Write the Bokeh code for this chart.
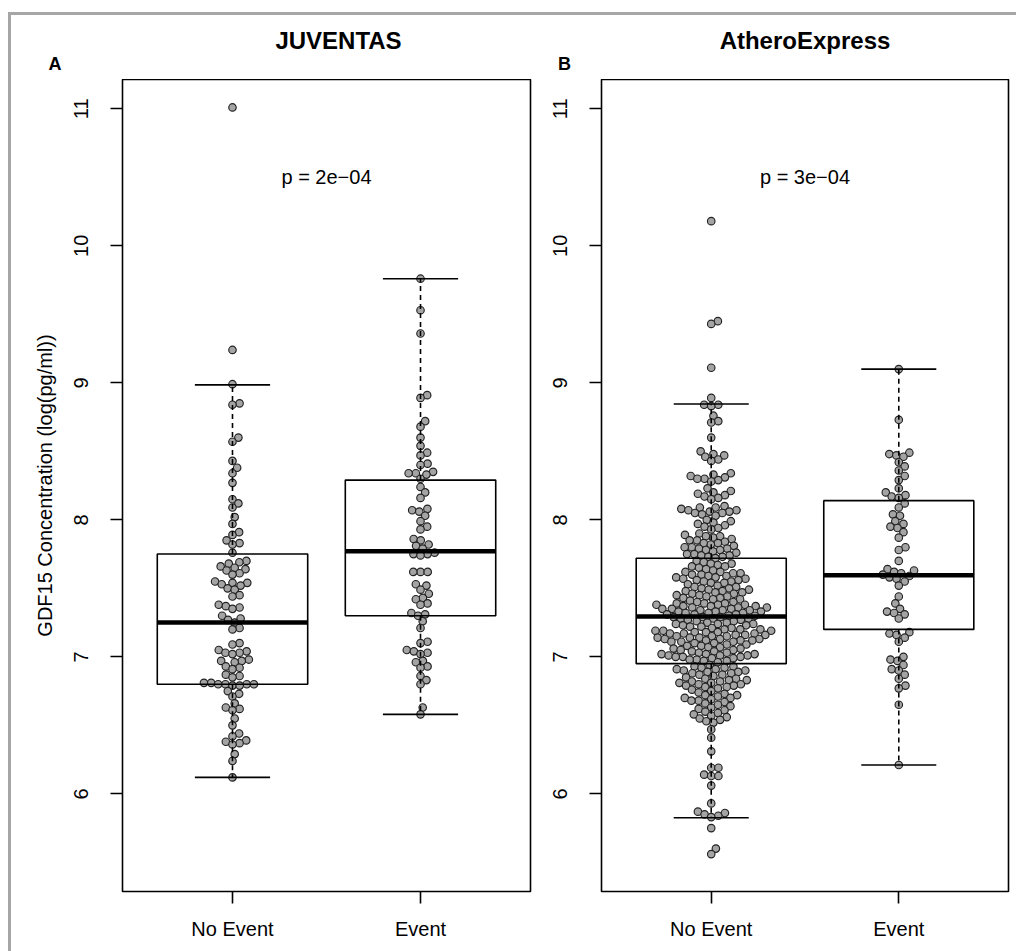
import numpy as np
from bokeh.plotting import figure
from bokeh.models import FixedTicker, Range1d, Label, ColumnDataSource
from bokeh.layouts import row, column
from bokeh.embed import file_html
from bokeh.resources import INLINE

FONT = "Liberation Sans"

# ---- data -------------------------------------------------------------
groups = ["No Event", "Event"]
group_pos = [1, 2]
y_ticks = [6, 7, 8, 9, 10, 11]

cohorts = ["JUVENTAS", "AtheroExpress"]
panel_letters = ["A", "B"]
p_labels = ["p = 2e\u221204", "p = 3e\u221204"]
y_label = "GDF15 Concentration (log(pg/ml))"

juv_no_event = [
    11.01, 9.24, 8.99, 8.85, 8.84, 8.60, 8.57, 8.43, 8.38, 8.34, 8.27, 8.15, 8.12, 8.09, 8.02, 7.97,
    7.91, 7.89, 7.85, 7.83, 7.82, 7.76, 7.70, 7.69, 7.68, 7.66, 7.65, 7.64,
    7.63, 7.61, 7.60, 7.55, 7.54, 7.54, 7.53, 7.52, 7.50, 7.49, 7.45, 7.44, 7.38, 7.37, 7.36, 7.35,
    7.30, 7.28, 7.27, 7.25, 7.21, 7.20,
    7.10, 7.09, 7.05, 7.04, 7.03, 7.03, 7.02,
    6.98, 6.97, 6.97, 6.96,
    6.93, 6.92, 6.91, 6.87, 6.86, 6.85,
    6.81, 6.81, 6.80, 6.80, 6.80, 6.80, 6.79, 6.79,
    6.75, 6.73, 6.71, 6.66, 6.63, 6.62, 6.61, 6.55, 6.50, 6.44, 6.42, 6.39, 6.38, 6.37, 6.36,
    6.29, 6.24, 6.12,
]

juv_event = [
    9.76, 9.53, 9.36, 8.91, 8.89, 8.72, 8.68, 8.60, 8.54, 8.49, 8.47, 8.41, 8.40, 8.35, 8.34,
    8.34, 8.33, 8.30, 8.24, 8.20, 8.16,
    8.08, 8.07, 8.06, 8.03, 7.99, 7.95, 7.93,
    7.86, 7.85, 7.82, 7.81, 7.79,
    7.76, 7.75, 7.75, 7.74,
    7.62, 7.62, 7.62,
    7.53, 7.52, 7.49, 7.46, 7.43, 7.42, 7.39, 7.38,
    7.32, 7.31, 7.30, 7.26, 7.21,
    7.11, 7.10, 7.05, 7.04, 7.03, 7.02,
    6.97, 6.96, 6.93, 6.92,
    6.86, 6.83, 6.80,
    6.63, 6.58,
]

ae_no_event = [
    10.18, 9.45, 9.43, 9.11, 8.89, 8.84, 8.84, 8.83, 8.76, 8.72, 8.71, 8.60,
    8.50, 8.48, 8.47, 8.46, 8.44, 8.43,
    8.34, 8.33, 8.32, 8.31, 8.30, 8.30, 8.29, 8.28,
    8.23, 8.21, 8.20, 8.19, 8.18, 8.17, 8.16, 8.15,
    8.10, 8.09, 8.09, 8.08, 8.07, 8.07, 8.06, 8.06, 8.05, 8.05, 8.04, 8.03,
    8.00, 7.99, 7.98, 7.97, 7.96, 7.95, 7.94, 7.93,
    7.90, 7.89, 7.88, 7.88, 7.87, 7.86, 7.85, 7.85, 7.84, 7.83, 7.83, 7.82,
    7.81, 7.80, 7.80, 7.79, 7.79, 7.78, 7.78, 7.77,
    7.76, 7.75, 7.75, 7.74, 7.74, 7.73, 7.73, 7.72,
    7.70, 7.69, 7.68, 7.68, 7.67, 7.66, 7.66, 7.65, 7.64,
    7.63, 7.62, 7.62, 7.61, 7.61, 7.60, 7.60, 7.59, 7.59, 7.58, 7.58, 7.57, 7.57, 7.56, 7.56,
    7.55, 7.55, 7.54, 7.54, 7.53,
    7.52, 7.51, 7.51, 7.50, 7.50, 7.49, 7.49, 7.48, 7.48, 7.47, 7.47, 7.46, 7.46, 7.45, 7.45,
    7.44, 7.44, 7.43, 7.43, 7.42, 7.42, 7.41, 7.40, 7.40,
    7.39, 7.39, 7.39, 7.38, 7.38, 7.38, 7.37, 7.37, 7.37, 7.36, 7.36, 7.36, 7.35, 7.35, 7.35,
    7.34, 7.34, 7.34, 7.33, 7.33, 7.33, 7.32, 7.32, 7.32, 7.31, 7.31, 7.31, 7.30, 7.30,
    7.29, 7.29, 7.29, 7.28, 7.28, 7.28, 7.27, 7.27, 7.26, 7.26, 7.25, 7.25, 7.24, 7.24, 7.24,
    7.23, 7.23, 7.22, 7.22, 7.21, 7.21,
    7.20, 7.20, 7.20, 7.19, 7.19, 7.19, 7.18, 7.18, 7.18, 7.17, 7.17, 7.17, 7.16, 7.16, 7.16,
    7.15, 7.15, 7.15, 7.14, 7.14, 7.14, 7.13, 7.13, 7.13, 7.12, 7.12, 7.12, 7.11, 7.11, 7.11,
    7.10, 7.10, 7.09, 7.09, 7.08, 7.08, 7.07, 7.07, 7.06, 7.06, 7.05, 7.05,
    7.04, 7.04, 7.03, 7.03, 7.02, 7.02, 7.02, 7.01, 7.01, 7.01, 7.00, 7.00, 7.00,
    6.99, 6.99, 6.98, 6.98, 6.97, 6.97, 6.96,
    6.94, 6.93, 6.93, 6.92, 6.92, 6.91, 6.91, 6.90, 6.90, 6.89, 6.89, 6.88, 6.88, 6.87, 6.87, 6.86,
    6.85, 6.84, 6.84, 6.83, 6.83, 6.82, 6.82, 6.81, 6.81, 6.80, 6.80, 6.79, 6.79, 6.78, 6.78,
    6.77, 6.76, 6.75,
    6.74, 6.73, 6.72, 6.72, 6.71, 6.70, 6.70, 6.69, 6.68, 6.68, 6.67, 6.66, 6.65, 6.64, 6.63,
    6.62, 6.61, 6.60,
    6.59, 6.58, 6.57, 6.56, 6.55, 6.54, 6.53, 6.52, 6.47, 6.41,
    6.31, 6.19, 6.19, 6.14, 6.13, 6.13, 6.06, 5.93, 5.87, 5.86, 5.85, 5.84, 5.83, 5.75, 5.60, 5.56,
]

ae_event = [
    9.10, 8.73, 8.49, 8.48, 8.47, 8.46, 8.42, 8.39, 8.36, 8.32, 8.29, 8.23,
    8.20, 8.18, 8.17, 8.16, 8.12, 8.09,
    8.04, 8.03, 7.99, 7.97, 7.95, 7.94, 7.91, 7.87,
    7.80, 7.78, 7.70,
    7.64, 7.63, 7.62, 7.61, 7.60, 7.59, 7.58, 7.57, 7.55, 7.52,
    7.44, 7.39,
    7.35, 7.33, 7.32, 7.31, 7.28,
    7.18, 7.17, 7.16, 7.14, 7.11,
    7.00, 6.98, 6.97, 6.94, 6.91, 6.90, 6.87, 6.84, 6.79, 6.77,
    6.65, 6.21,
]

# box statistics per group: lower whisker, Q1, median, Q3, upper whisker
juv_lower = [6.12, 6.58]
juv_q1 = [6.80, 7.30]
juv_median = [7.25, 7.77]
juv_q3 = [7.75, 8.29]
juv_upper = [8.985, 9.76]

ae_lower = [5.825, 6.21]
ae_q1 = [6.95, 7.20]
ae_median = [7.295, 7.595]
ae_q3 = [7.72, 8.14]
ae_upper = [8.845, 9.10]

# ---- geometry ---------------------------------------------------------
Y_LO, Y_HI = 5.287, 11.214
X_LO, X_HI = 0.415, 2.585
FRAME_H = 812
HEADER_W, HEADER_H = 1005, 64
DOT = 7.2          # swarm spacing in pixels
MARKER = 7.5       # marker diameter in pixels
BOX_HALF = 0.4
CAP_HALF = 0.2


def swarm_offsets(values, px_x, px_y):
    """Beeswarm 'swarm' layout: place points in ascending order at the
    horizontal offset closest to the centre that avoids overlap."""
    v = np.asarray(values, dtype=float)
    ypx = v * px_y
    order = np.argsort(ypx, kind="stable")
    xs = np.zeros(len(v))
    placed = []
    for i in order:
        y = ypx[i]
        near = [(xs[j], ypx[j]) for j in placed if abs(ypx[j] - y) < DOT]
        cands = [0.0]
        cands += [xj + np.sqrt(DOT ** 2 - (yj - y) ** 2) for xj, yj in near]
        cands += [xj - np.sqrt(DOT ** 2 - (yj - y) ** 2) for xj, yj in near]
        best = 0.0
        for c in sorted(cands, key=abs):
            if all((c - xj) ** 2 + (y - yj) ** 2 >= DOT ** 2 - 1e-6 for xj, yj in near):
                best = c
                break
        xs[i] = best
        placed.append(i)
    return xs / px_x


def make_panel(idx, series, lower, q1, med, q3, upper, frame_w, border_l, border_r,
               show_ylabel):
    p = figure(
        frame_width=frame_w, frame_height=FRAME_H,
        x_range=Range1d(X_LO, X_HI), y_range=Range1d(Y_LO, Y_HI),
        output_backend="svg", toolbar_location=None,
        min_border_left=border_l, min_border_right=border_r,
        min_border_top=0, min_border_bottom=60,
        background_fill_color="white", border_fill_color="white",
        outline_line_color="black", outline_line_width=1.6,
    )
    p.grid.visible = False

    px_x = frame_w / (X_HI - X_LO)
    px_y = FRAME_H / (Y_HI - Y_LO)

    # swarm points
    for pos, vals in zip(group_pos, series):
        xo = swarm_offsets(vals, px_x, px_y)
        src = ColumnDataSource(dict(x=pos + xo, y=vals))
        p.scatter("x", "y", source=src, marker="circle", size=MARKER,
                  fill_color="#a4a4a4", line_color="#222222", line_width=1.15)

    # boxplots drawn over the points
    pos = np.array(group_pos, dtype=float)
    bsrc = ColumnDataSource(dict(
        x=pos, left=pos - BOX_HALF, right=pos + BOX_HALF,
        cl=pos - CAP_HALF, cr=pos + CAP_HALF,
        lower=lower, q1=q1, med=med, q3=q3, upper=upper,
    ))
    p.quad(left="left", right="right", bottom="q1", top="q3", source=bsrc,
           fill_color=None, line_color="black", line_width=1.6)
    p.segment(x0="x", y0="q3", x1="x", y1="upper", source=bsrc,
              line_color="black", line_width=1.6, line_dash="5 4")
    p.segment(x0="x", y0="q1", x1="x", y1="lower", source=bsrc,
              line_color="black", line_width=1.6, line_dash="5 4")
    p.segment(x0="cl", y0="upper", x1="cr", y1="upper", source=bsrc,
              line_color="black", line_width=1.6)
    p.segment(x0="cl", y0="lower", x1="cr", y1="lower", source=bsrc,
              line_color="black", line_width=1.6)
    p.segment(x0="left", y0="med", x1="right", y1="med", source=bsrc,
              line_color="black", line_width=4.5)

    # axes
    p.xaxis.ticker = FixedTicker(ticks=group_pos)
    p.xaxis.major_label_overrides = {g: lab for g, lab in zip(group_pos, groups)}
    p.yaxis.ticker = FixedTicker(ticks=y_ticks)
    p.yaxis.major_label_orientation = "vertical"
    for ax in (p.xaxis, p.yaxis):
        ax.axis_line_color = None
        ax.major_tick_out = 12
        ax.major_tick_in = 0
        ax.minor_tick_out = 0
        ax.minor_tick_in = 0
        ax.major_tick_line_color = "black"
        ax.major_tick_line_width = 1.6
        ax.major_label_text_font = FONT
        ax.major_label_text_font_size = "20px"
        ax.major_label_text_color = "black"
    p.xaxis.major_label_standoff = 14
    p.yaxis.major_label_standoff = 22
    if show_ylabel:
        p.yaxis.axis_label = y_label
        p.yaxis.axis_label_text_font = FONT
        p.yaxis.axis_label_text_font_size = "20px"
        p.yaxis.axis_label_text_font_style = "normal"
        p.yaxis.axis_label_text_color = "black"
        p.yaxis.axis_label_standoff = 16

    # test result inside the plot box
    p.add_layout(Label(x=1.5, y=10.5, text=p_labels[idx], text_font=FONT,
                       text_font_size="20px", text_align="center",
                       text_baseline="middle", text_color="black"))
    return p


p1 = make_panel(0, [juv_no_event, juv_event], juv_lower, juv_q1, juv_median, juv_q3,
                juv_upper, 408, 111, 15, True)
p2 = make_panel(1, [ae_no_event, ae_event], ae_lower, ae_q1, ae_median, ae_q3,
                ae_upper, 407, 56, 8, False)

# header strip with the cohort titles and panel letters (y measured downward)
header = figure(
    frame_width=HEADER_W, frame_height=HEADER_H,
    x_range=Range1d(0, HEADER_W), y_range=Range1d(HEADER_H, 0),
    x_axis_type=None, y_axis_type=None, min_border=0,
    output_backend="svg", toolbar_location=None,
    outline_line_color=None, background_fill_color="white", border_fill_color="white",
)
header.grid.visible = False
title_x = [327, 793.5]
letter_x = [43.5, 553]
for i in range(2):
    header.add_layout(Label(x=title_x[i], y=24.5, text=cohorts[i], text_font=FONT,
                            text_font_size="24px", text_font_style="bold",
                            text_align="center", text_baseline="middle",
                            text_color="black"))
    header.add_layout(Label(x=letter_x[i], y=48.5, text=panel_letters[i], text_font=FONT,
                            text_font_size="18px", text_font_style="bold",
                            text_align="center", text_baseline="middle",
                            text_color="black"))

layout = column(header, row(p1, p2), margin=(12, 0, 0, 8),
                styles={"border-top": "3px solid #a6a6a6", "border-left": "3px solid #a6a6a6"})

open("out.html", "w").write(file_html(layout, INLINE))
